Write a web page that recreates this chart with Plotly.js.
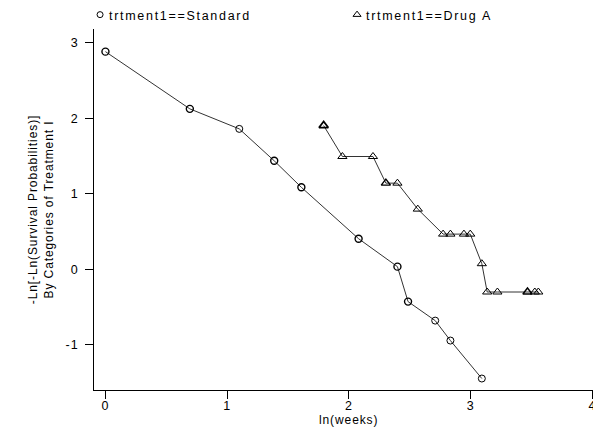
<!DOCTYPE html>
<html>
<head>
<meta charset="utf-8">
<script src="https://cdn.plot.ly/plotly-3.0.1.min.js"></script>
<style>
  html, body { margin: 0; padding: 0; background: #fff; }
  #chart { width: 593px; height: 430px; }
  #chart svg text { letter-spacing: 0.9px; }
  #chart svg .legendtext { letter-spacing: 1.7px; }
</style>
</head>
<body>
<div id="chart"></div>
<script>
// ln(weeks) and -Ln[-Ln(S)]
var standardX = [0, 0.693, 1.099, 1.386, 1.609, 2.079, 2.398, 2.485, 2.708, 2.833, 3.091];
var standardY = [2.884, 2.126, 1.861, 1.438, 1.087, 0.406, 0.036, -0.427, -0.679, -0.943, -1.446];

var drugX = [1.792, 1.946, 2.197, 2.303, 2.398, 2.565, 2.773, 2.833, 2.944, 2.996, 3.091, 3.135, 3.219, 3.466, 3.526, 3.555];
var drugY = [1.905, 1.495, 1.495, 1.142, 1.142, 0.798, 0.467, 0.467, 0.467, 0.467, 0.075, -0.300, -0.300, -0.300, -0.300, -0.300];

var seriesNames = ['trtment1==Standard', 'trtment1==Drug A'];
var xTicks = [0, 1, 2, 3, 4];
var yTicks = [-1, 0, 1, 2, 3];
var xTitle = 'ln(weeks)';
var yTitle = '-Ln[-Ln(Survival Probabilities)]<br>By Categories of Treatment I';

var FONT = 'Liberation Sans, Arial, Helvetica, sans-serif';

// overplotted (tied) observations look heavier in the reference
var stdLineW = standardX.map(function (v, i) { return [0,1,3,4,5,6,7].indexOf(i) >= 0 ? 1.4 : 1; });
var drugLineW = drugX.map(function (v, i) { return i === 0 ? 1.8 : ([3,13].indexOf(i) >= 0 ? 1.4 : 1); });

var traces = [
  {
    x: standardX, y: standardY, type: 'scatter', mode: 'lines+markers',
    line: { color: '#333', width: 1 },
    marker: { symbol: 'circle-open', size: 7, color: '#000', line: { color: '#000', width: stdLineW } },
    showlegend: false, hoverinfo: 'x+y'
  },
  {
    x: drugX, y: drugY, type: 'scatter', mode: 'lines+markers',
    line: { color: '#333', width: 1 },
    marker: { symbol: 'triangle-up-open', size: 8, color: '#000', line: { color: '#000', width: drugLineW } },
    showlegend: false, hoverinfo: 'x+y'
  },
  {
    x: [null], y: [null], type: 'scatter', mode: 'markers', name: seriesNames[0],
    marker: { symbol: 'circle-open', size: 6, color: '#000', line: { color: '#000', width: 1 } }
  },
  {
    x: [null], y: [null], type: 'scatter', mode: 'markers', name: seriesNames[1],
    marker: { symbol: 'triangle-up-open', size: 7, color: '#000', line: { color: '#000', width: 1 } }
  }
];

var layout = {
  width: 593, height: 430,
  margin: { l: 94, r: 0, t: 28, b: 40, pad: 0 },
  paper_bgcolor: '#fff', plot_bgcolor: '#fff',
  font: { family: FONT, size: 12, color: '#000' },
  showlegend: true,
  legend: {
    orientation: 'h', x: -0.05, xanchor: 'left', y: 1.04, yanchor: 'middle',
    font: { family: FONT, size: 12.5, color: '#000' },
    itemwidth: 30, entrywidth: 212, bgcolor: 'rgba(0,0,0,0)', tracegroupgap: 0
  },
  xaxis: {
    range: [-0.094, 4.004], tickvals: xTicks, ticktext: xTicks.map(String),
    ticks: 'outside', ticklen: 8, tickwidth: 1, tickcolor: '#000',
    showline: true, linecolor: '#000', linewidth: 1,
    showgrid: false, zeroline: false,
    tickfont: { family: FONT, size: 12.5, color: '#000' },
    ticklabelstandoff: -4, ticklabeloverflow: 'allow'
  },
  yaxis: {
    range: [-1.598, 3.184], tickvals: yTicks, ticktext: yTicks.map(String),
    ticks: 'outside', ticklen: 8, tickwidth: 1, tickcolor: '#000',
    showline: true, linecolor: '#000', linewidth: 1,
    showgrid: false, zeroline: false,
    tickfont: { family: FONT, size: 12.5, color: '#000' },
    ticklabelstandoff: 4,
    title: { text: yTitle, font: { family: FONT, size: 12, color: '#000' }, standoff: 11 }
  },
  annotations: [
    {
      text: xTitle, xref: 'paper', yref: 'paper', x: 0.51, y: (390 - 420.5) / 362,
      xanchor: 'center', yanchor: 'middle', showarrow: false, borderpad: 0,
      font: { family: FONT, size: 12, color: '#000' }
    }
  ]
};

Plotly.newPlot('chart', traces, layout, { staticPlot: true, displayModeBar: false }).then(function (gd) {
  // pull legend symbols closer to their labels, as in the reference
  var pts = gd.querySelectorAll('.legend .traces .legendpoints');
  pts.forEach(function (p) { p.setAttribute('transform', 'translate(11,0)'); });
});
</script>
</body>
</html>
